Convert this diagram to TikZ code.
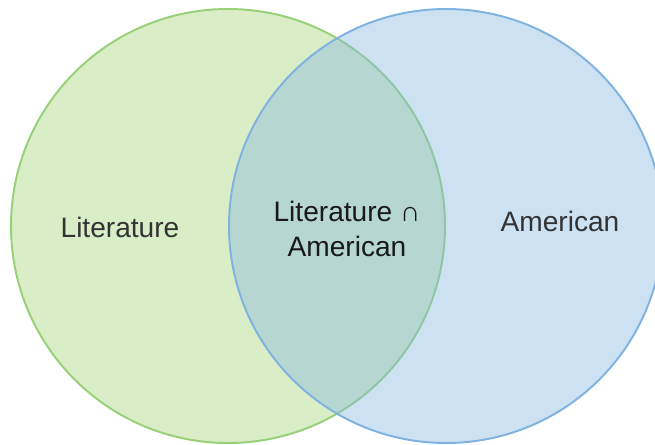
\documentclass[tikz,border=0pt]{standalone}
\usepackage{fontspec}
\setmainfont{Liberation Sans}
\usetikzlibrary{positioning}

\definecolor{litfill}{RGB}{217,237,199}
\definecolor{litline}{RGB}{151,208,119}
\definecolor{amfill}{RGB}{133,184,224}
\definecolor{amline}{RGB}{126,178,224}
\definecolor{labeltext}{RGB}{51,51,51}

\tikzset{
	setlabel/.style={text=labeltext, font=\fontsize{16}{19.5}\selectfont, inner sep=0pt},
	bothlabel/.style={setlabel, text=black!90, align=center}
}

\begin{document}
\begin{tikzpicture}[x=0.02cm, y=0.02cm]

	\useasboundingbox (0,0) rectangle (655,444);
	\clip (0,0) rectangle (655,444);

	\filldraw[fill=litfill, draw=litline, line width=1.1pt] (228,218) circle (217);
	\filldraw[fill=amfill, fill opacity=0.42, draw=amline, draw opacity=1, line width=1.1pt] (446,218) circle (217);

	\node[setlabel] (lit) at (120,217) {Literature};
	\node[setlabel] (am) at (560,223) {American};
	\node[bothlabel] (litam) at (347,215) {Literature ∩\\American};

\end{tikzpicture}
\end{document}
